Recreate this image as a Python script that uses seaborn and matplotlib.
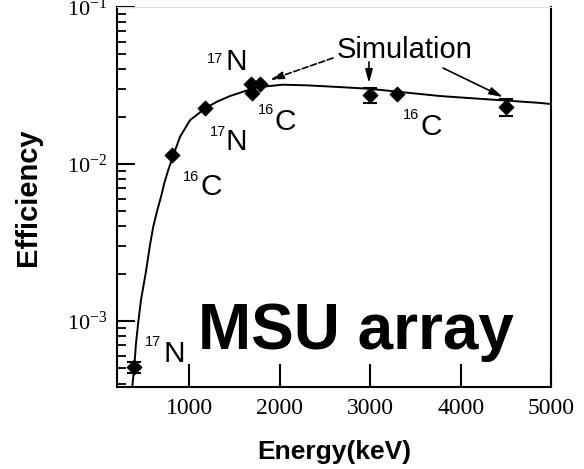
import matplotlib
matplotlib.use("Agg")
import matplotlib.pyplot as plt
import seaborn as sns

# ---- data ----
curve_energy = [369, 391, 410, 436, 465, 517, 565, 601, 646, 687, 723, 767, 823,
                897, 1007, 1173, 1303, 1450, 1597, 1745, 2036, 2300, 2666, 3000,
                3772, 4436, 4878, 5000]
curve_eff = [3.8e-4, 5.12e-4, 7.21e-4, 9.91e-4, 1.36e-3, 2.01e-3, 3.05e-3, 3.99e-3,
             5.09e-3, 6.19e-3, 7.54e-3, 9.16e-3, 1.14e-2, 1.49e-2, 1.9e-2, 2.26e-2,
             2.49e-2, 2.71e-2, 2.89e-2, 3.08e-2, 3.2e-2, 3.17e-2, 3.09e-2, 3.01e-2,
             2.71e-2, 2.55e-2, 2.45e-2, 2.41e-2]

point_energy = [388, 808, 1173, 1680, 1780, 1690, 3000, 3300, 4500]
point_eff = [5.1e-4, 1.14e-2, 2.27e-2, 3.25e-2, 3.22e-2, 2.85e-2, 2.75e-2, 2.79e-2, 2.31e-2]

err_energy = [388, 3000, 4500]
err_eff = [5.1e-4, 2.75e-2, 2.31e-2]
err_size = [4e-5, 3.0e-3, 2.8e-3]

arrow_targets_energy = [1892, 2987, 4469]
arrow_targets_eff = [3.43e-2, 3.28e-2, 2.67e-2]

x_ticks = [1000, 2000, 3000, 4000, 5000]

# ---- style ----
sns.set_style("ticks")
plt.rcParams["font.family"] = ["Liberation Sans", "DejaVu Sans"]
for k in ["text.color", "axes.labelcolor", "xtick.color", "ytick.color", "axes.edgecolor"]:
    plt.rcParams[k] = "black"

W, H = 584, 469
fig = plt.figure(figsize=(W / 100, H / 100), dpi=100)
L, R, B, T = 117, 551, 387, 7
ax = fig.add_axes([L / W, (H - B) / H, (R - L) / W, (B - T) / H])

def af(px, py):
    return ((px - L) / (R - L), (B - py) / (B - T))

sns.lineplot(x=curve_energy, y=curve_eff, color="black", lw=1.4, ax=ax)
ax.errorbar(err_energy, err_eff, yerr=err_size, fmt="none", ecolor="black",
            elinewidth=1.2, capsize=5, capthick=1.5, zorder=3)
sns.scatterplot(x=point_energy, y=point_eff, marker="D", s=60, color="black",
                edgecolor="black", linewidth=0.5, ax=ax, zorder=4)

ax.set_yscale("log")
ax.set_xlim(200, 5000)
ax.set_ylim(3.8e-4, 0.1)
ax.set_xticks(x_ticks)
ax.set_xticklabels([str(t) for t in x_ticks])

for s in ["left", "bottom", "right"]:
    ax.spines[s].set_linewidth(1.5)
    ax.spines[s].set_color("black")
ax.spines["top"].set_linewidth(0.8)
ax.spines["top"].set_color("#e0e0e0")

ax.tick_params(axis="x", which="major", direction="in", length=16.5, width=1.5,
               labelsize=17, pad=8, labelfontfamily="Liberation Serif")
ax.tick_params(axis="x", which="minor", bottom=False)
ax.tick_params(axis="y", which="major", direction="in", length=13, width=1.5,
               labelsize=16, pad=7, labelfontfamily="Liberation Serif")
ax.tick_params(axis="y", which="minor", direction="in", length=6.5, width=1.3)
ax.tick_params(top=False, right=False)

ax.set_xlabel("Energy(keV)", fontsize=19, fontweight="bold")
ax.xaxis.set_label_coords(0.5, af(0, 440)[1])
ax.set_ylabel("Efficiency", fontsize=21, fontweight="bold")
ax.yaxis.label.set_va("center")
ax.yaxis.set_label_coords(af(28, 0)[0], 0.5)

# isotope labels
labels = [("17", "N", (145, 335), (164, 362)),
          ("16", "C", (183, 170), (200, 195)),
          ("17", "N", (210, 125), (226, 150)),
          ("17", "N", (207, 52), (225, 70)),
          ("16", "C", (258, 103), (275, 130)),
          ("16", "C", (403, 108), (420, 135))]
for sup, el, p1, p2 in labels:
    ax.text(*af(*p1), sup, transform=ax.transAxes, fontsize=10.5,
            ha="left", va="top")
    ax.text(*af(*p2), el, transform=ax.transAxes, fontsize=21.5,
            ha="left", va="baseline")

ax.text(*af(405, 58), "Simulation", transform=ax.transAxes, fontsize=21,
        ha="center", va="baseline")

tails = [(333, 58), (369, 62), (443, 68)]
styles = ["--", "-", "-"]
for xe, ye, tail, ls in zip(arrow_targets_energy, arrow_targets_eff, tails, styles):
    ax.annotate("", xy=(xe, ye), xycoords="data",
                xytext=af(*tail), textcoords="axes fraction",
                arrowprops=dict(arrowstyle="-|>,head_length=0.8,head_width=0.22",
                                color="black", lw=1.2, linestyle=ls,
                                shrinkA=0, shrinkB=0))

ax.text(*af(198, 349), "MSU array", transform=ax.transAxes, fontsize=46,
        fontweight="bold", ha="left", va="baseline")

fig.savefig("out.png", dpi=100)
